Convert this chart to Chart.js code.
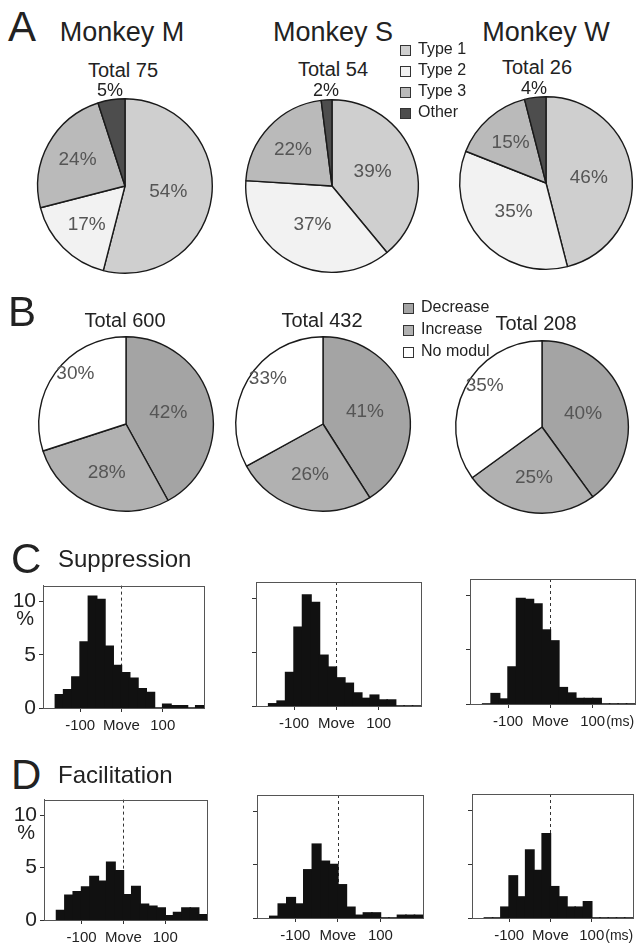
<!DOCTYPE html>
<html>
<head>
<meta charset="utf-8">
<script src="https://cdn.jsdelivr.net/npm/chart.js@4.4.1/dist/chart.umd.min.js"></script>
<style>
  html, body { margin: 0; padding: 0; background: #fff; }
  body { width: 644px; height: 946px; position: relative; overflow: hidden;
         font-family: "Liberation Sans", Arial, sans-serif; color: #222; }
  .t { position: absolute; white-space: nowrap; line-height: 1; }
  .sq { position: absolute; width: 9px; height: 9px; border: 1px solid #333; }
  canvas { position: absolute; }
</style>
</head>
<body>
<script>
// ---- data ----
const monkeys = ['Monkey M', 'Monkey S', 'Monkey W'];

const typeLabels = ['Type 1', 'Type 2', 'Type 3', 'Other'];
const typeTotals = [75, 54, 26];
const typeM = [54, 17, 24, 5];
const typeS = [39, 37, 22, 2];
const typeW = [46, 35, 15, 4];

const modLabels = ['Decrease', 'Increase', 'No modul'];
const modTotals = [600, 432, 208];
const modM = [42, 28, 30];
const modS = [41, 26, 33];
const modW = [40, 25, 35];

// 20 ms bins, start of each bin (ms from movement onset)
const binWidth = 20;
const binStarts = [-160, -140, -120, -100, -80, -60, -40, -20, 0, 20, 40, 60, 80, 100, 120, 140, 160, 180];
const suppM = [1.25, 1.7, 2.9, 6.2, 10.5, 10.2, 5.8, 4.0, 3.3, 2.8, 1.8, 1.45, 0, 0.35, 0.2, 0.2, 0, 0.2];
const suppS = [0.2, 0.45, 3.1, 7.3, 10.3, 9.6, 4.7, 3.6, 2.6, 2.1, 1.2, 0.7, 1.0, 0.55, 0.55, 0, 0, 0];
const suppW = [0, 0.95, 0.45, 3.4, 9.7, 9.6, 9.2, 6.8, 5.8, 1.5, 1.0, 0.5, 0.5, 0.5, 0, 0, 0, 0];
const facM = [0.9, 2.35, 2.7, 3.15, 4.15, 3.7, 5.5, 4.7, 2.4, 3.2, 1.5, 1.3, 1.15, 0.4, 0.7, 1.15, 1.15, 0.5];
const facS = [0.15, 1.3, 1.9, 1.3, 4.5, 6.9, 5.3, 5.0, 3.1, 1.0, 0.25, 0.47, 0.47, 0, 0, 0.25, 0.25, 0.25];
const facW = [0, 0, 1.0, 3.9, 1.95, 6.3, 4.4, 7.8, 2.9, 1.95, 1.0, 1.0, 1.5, 0, 0, 0, 0, 0];

const xTicks = [-100, 0, 100];
const xTickLabels = ['-100', 'Move', '100'];
const yTicks = [0, 5, 10];
const xMin = -190, xMax = 200, yMax = 11.5;

// ---- styling ----
const FONT = '"Liberation Sans", Arial, sans-serif';
const typeColors = ['#cfcfcf', '#f2f2f2', '#bababa', '#4d4d4d'];
const modColors = ['#a4a4a4', '#b1b1b1', '#ffffff'];

function addText(str, x, baseline, size, align) {
  const d = document.createElement('div');
  d.className = 't';
  d.textContent = str;
  d.style.fontSize = size + 'px';
  d.style.top = (baseline - 0.846 * size) + 'px';
  d.style.left = x + 'px';
  if (align === 'center') d.style.transform = 'translateX(-50%)';
  document.body.appendChild(d);
  return d;
}

function makeCanvas(left, top, w, h) {
  const c = document.createElement('canvas');
  c.width = w; c.height = h;
  c.style.left = left + 'px'; c.style.top = top + 'px';
  c.style.width = w + 'px'; c.style.height = h + 'px';
  document.body.appendChild(c);
  return c;
}

// percent labels inside / outside each slice
const pieLabels = {
  id: 'pieLabels',
  afterDatasetsDraw(chart, args, opts) {
    const ctx = chart.ctx;
    const data = chart.data.datasets[0].data;
    ctx.save();
    ctx.textAlign = 'center';
    ctx.textBaseline = 'middle';
    chart.getDatasetMeta(0).data.forEach((arc, i) => {
      const v = data[i];
      const p = arc.getProps(['x', 'y', 'startAngle', 'endAngle', 'outerRadius'], true);
      let mid = (p.startAngle + p.endAngle) / 2;
      if (opts.shift) mid += opts.shift[i] * Math.PI / 180;
      let f = 0.5;
      if (v < 10) f = 1.1; else if (v < 30) f = 0.62;
      if (opts.fracs) f = opts.fracs[i];
      ctx.font = (v < 10 ? 18 : 19) + 'px ' + FONT;
      ctx.fillStyle = v < 10 ? '#222' : '#555';
      ctx.fillText(v + '%', p.x + Math.cos(mid) * p.outerRadius * f, p.y + Math.sin(mid) * p.outerRadius * f);
    });
    ctx.restore();
  }
};

function pie(cx, cy, r, labels, values, colors, labelOpts) {
  const pad = 26;
  const c = makeCanvas(cx - r - pad, cy - r - pad, 2 * (r + pad), 2 * (r + pad));
  new Chart(c, {
    type: 'pie',
    data: { labels: labels, datasets: [{ data: values, backgroundColor: colors, borderColor: '#1a1a1a', borderWidth: 1.4 }] },
    options: {
      responsive: false, animation: false, events: [],
      layout: { padding: pad },
      plugins: { legend: { display: false }, tooltip: { enabled: false }, pieLabels: labelOpts || {} }
    },
    plugins: [pieLabels]
  });
}

// frame, dashed "Move" line, % sign, (ms)
const histExtras = {
  id: 'histExtras',
  beforeDatasetsDraw(chart) {
    const { ctx, chartArea: a, scales: { x } } = chart;
    ctx.save();
    ctx.strokeStyle = '#333';
    ctx.lineWidth = 1;
    ctx.setLineDash([3, 3]);
    const x0 = Math.round(x.getPixelForValue(0)) + 0.5;
    ctx.beginPath(); ctx.moveTo(x0, a.top); ctx.lineTo(x0, a.bottom); ctx.stroke();
    ctx.restore();
  },
  afterDraw(chart, args, opts) {
    const { ctx, chartArea: a, scales: { x, y } } = chart;
    ctx.save();
    ctx.strokeStyle = '#555';
    ctx.lineWidth = 1;
    ctx.strokeRect(Math.round(a.left) + 0.5, Math.round(a.top) + 0.5, Math.round(a.right - a.left), Math.round(a.bottom - a.top));
    ctx.fillStyle = '#222';
    if (opts.percent) {
      ctx.font = '20px ' + FONT;
      ctx.textAlign = 'right';
      ctx.textBaseline = 'middle';
      ctx.fillText('%', y.right - 9, y.getPixelForValue(10) + 18);
    }
    if (opts.ms) {
      ctx.font = '15px ' + FONT;
      const w = ctx.measureText('100').width;
      ctx.font = '14px ' + FONT;
      ctx.textAlign = 'left';
      ctx.textBaseline = 'middle';
      ctx.fillText('(ms)', x.getPixelForValue(100) + w / 2 + 1, x.top + 18);
    }
    ctx.restore();
  }
};

function hist(box, values, opts) {
  const padTop = 12, yW = 43, padR = 14, xH = 34;
  const c = makeCanvas(box.l - yW, box.t - padTop, box.r - box.l + yW + padR, box.b - box.t + padTop + xH);
  new Chart(c, {
    type: 'bar',
    data: {
      datasets: [{
        data: binStarts.map((s, i) => ({ x: s + binWidth / 2, y: values[i] })),
        backgroundColor: '#111', borderWidth: 0, inflateAmount: 0.8,
        barPercentage: 1, categoryPercentage: 1
      }]
    },
    options: {
      responsive: false, animation: false, events: [],
      layout: { padding: { top: padTop, right: padR, left: 0, bottom: 0 } },
      plugins: { legend: { display: false }, tooltip: { enabled: false }, histExtras: opts },
      scales: {
        x: {
          type: 'linear', min: xMin, max: xMax, offset: false,
          afterBuildTicks: s => { s.ticks = xTicks.map(v => ({ value: v })); },
          afterFit: s => { s.height = xH; },
          grid: { drawOnChartArea: false, tickLength: 4, color: '#333', offset: false },
          border: { color: '#555' },
          ticks: {
            autoSkip: false, maxRotation: 0, padding: 5, color: '#222',
            font: { size: 15, family: FONT },
            callback: v => xTickLabels[xTicks.indexOf(v)]
          }
        },
        y: {
          min: 0, max: yMax,
          afterBuildTicks: s => { s.ticks = yTicks.map(v => ({ value: v })); },
          afterFit: s => { s.width = yW; },
          grid: { drawOnChartArea: false, tickLength: 4, color: '#333' },
          border: { color: '#555' },
          ticks: { display: !!opts.percent, padding: 3, color: '#222', font: { size: 21, family: FONT } }
        }
      }
    },
    plugins: [histExtras]
  });
}

// ---- A: cell types ----
addText('A', 8, 42, 42);
addText(monkeys[0], 122, 42, 27, 'center');
addText(monkeys[1], 333, 42, 27, 'center');
addText(monkeys[2], 546, 42, 27, 'center');
addText('Total ' + typeTotals[0], 123, 77, 20, 'center');
addText('Total ' + typeTotals[1], 333, 76, 20, 'center');
addText('Total ' + typeTotals[2], 537, 74, 20, 'center');
pie(125, 186, 88, typeLabels, typeM, typeColors);
pie(332, 186, 87, typeLabels, typeS, typeColors);
pie(546, 183, 87, typeLabels, typeW, typeColors);

typeLabels.forEach((lab, i) => {
  const sq = document.createElement('div');
  sq.className = 'sq';
  sq.style.left = '400px';
  sq.style.top = (45 + i * 21) + 'px';
  sq.style.background = typeColors[i];
  document.body.appendChild(sq);
  addText(lab, 418, 55 + i * 21, 16);
});

// ---- B: modulation ----
addText('B', 8, 327, 42);
addText('Total ' + modTotals[0], 125, 327, 20, 'center');
addText('Total ' + modTotals[1], 322, 327, 20, 'center');
addText('Total ' + modTotals[2], 536, 330, 20, 'center');
const modLabelPos = { fracs: [0.5, 0.6, 0.82], shift: [0, 0, 9] };
pie(126, 424, 88, modLabels, modM, modColors, modLabelPos);
pie(323, 424, 88, modLabels, modS, modColors, modLabelPos);
pie(542, 427, 87, modLabels, modW, modColors, modLabelPos);

modLabels.forEach((lab, i) => {
  const sq = document.createElement('div');
  sq.className = 'sq';
  sq.style.left = '403px';
  sq.style.top = (303 + i * 22) + 'px';
  sq.style.background = modColors[i];
  document.body.appendChild(sq);
  addText(lab, 421, 313 + i * 22, 16);
});

// ---- C: suppression ----
addText('C', 11, 574, 42);
addText('Suppression', 58, 567, 24);
hist({ l: 43, r: 204, t: 582, b: 708 }, suppM, { percent: true });
hist({ l: 256, r: 421, t: 582, b: 706 }, suppS, {});
hist({ l: 470, r: 635, t: 579, b: 704 }, suppW, { ms: true });

// ---- D: facilitation ----
addText('D', 11, 790, 42);
addText('Facilitation', 58, 783, 24);
hist({ l: 44, r: 207, t: 796, b: 920 }, facM, { percent: true });
hist({ l: 257, r: 423, t: 795, b: 918 }, facS, {});
hist({ l: 472, r: 633, t: 794, b: 918 }, facW, { ms: true });
</script>
</body>
</html>
